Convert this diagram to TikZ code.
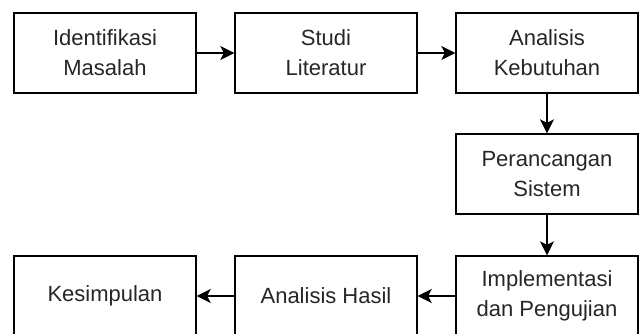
\documentclass[tikz,border=0pt]{standalone}
\usepackage{fontspec}
\setmainfont{Liberation Sans}
\usetikzlibrary{arrows.meta}

\begin{document}
\begin{tikzpicture}[x=1pt,y=-1pt,
	stepbox/.style={draw,line width=1.4pt,minimum width=182pt,minimum height=80pt,
		align=center,text=black!85,font=\fontsize{22}{30}\selectfont},
	flow/.style={line width=1.4pt,-{Stealth[length=14pt,width=14pt,inset=3.5pt]}}]
	\clip (0,0) rectangle (640,333);
	\useasboundingbox (0,0) rectangle (640,333);
	% baris atas
	\node[stepbox] (identifikasi) at (105,53) {Identifikasi\\Masalah};
	\node[stepbox] (studi) at (326,53) {Studi\\Literatur};
	\node[stepbox] (kebutuhan) at (547,53) {Analisis\\Kebutuhan};
	% tengah
	\node[stepbox] (perancangan) at (547,174) {Perancangan\\Sistem};
	% baris bawah
	\node[stepbox] (implementasi) at (547,296) {Implementasi\\dan Pengujian};
	\node[stepbox] (hasil) at (326,296) {Analisis Hasil};
	\node[stepbox] (kesimpulan) at (105,296) {Kesimpulan};

	\draw[flow] (identifikasi) -- (studi);
	\draw[flow] (studi) -- (kebutuhan);
	\draw[flow] (kebutuhan) -- (perancangan);
	\draw[flow] (perancangan) -- (implementasi);
	\draw[flow] (implementasi) -- (hasil);
	\draw[flow] (hasil) -- (kesimpulan);
\end{tikzpicture}
\end{document}
